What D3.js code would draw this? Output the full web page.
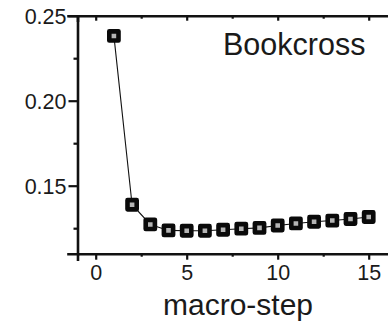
<!DOCTYPE html>
<html>
<head>
<meta charset="utf-8">
<script src="https://cdn.jsdelivr.net/npm/d3@7/dist/d3.min.js"></script>
<style>
  html, body { margin: 0; padding: 0; background: #fff; }
  svg { display: block; font-family: "Liberation Sans", Arial, sans-serif; }
  .axis path, .axis line { stroke: #111; }
  .axis text { fill: #1a1a1a; }
</style>
</head>
<body>
<svg id="chart" width="388" height="326"></svg>
<script>
// macro-step index and the value measured after each step
const steps = [1, 2, 3, 4, 5, 6, 7, 8, 9, 10, 11, 12, 13, 14, 15];
const values = [0.2381, 0.1388, 0.1272, 0.1237, 0.1235, 0.1235, 0.1241, 0.1247,
                0.1252, 0.1266, 0.1278, 0.1288, 0.1295, 0.1304, 0.1316];
const xMajorTicks = [0, 5, 10, 15];
const xMinorTicks = [2.5, 7.5, 12.5];
const yMajorTicks = [0.15, 0.20, 0.25];
const yMinorTicks = [0.125, 0.175, 0.225];
const datasetName = "Bookcross";
const xTitle = "macro-step";

const svg = d3.select("#chart");
const plotLeft = 77.5, plotTop = 15.7, plotBottom = 253.7;

const x = d3.scaleLinear().domain([-1, 16.5]).range([plotLeft, plotLeft + 17.5 * 18.2]);
const y = d3.scaleLinear().domain([0.11, 0.25]).range([plotBottom, plotTop]);

const fmt = d3.format(".2f");

// bottom axis: outward ticks with labels
const gx = svg.append("g").attr("class", "axis").attr("transform", `translate(0,${plotBottom})`);
gx.call(d3.axisBottom(x).tickValues(xMajorTicks).tickSize(6).tickPadding(5).tickFormat(d3.format("d")));
gx.append("g").call(d3.axisBottom(x).tickValues(xMinorTicks).tickSize(3).tickFormat(""))
  .select(".domain").remove();

// top axis: inward ticks, no labels
const gt = svg.append("g").attr("class", "axis").attr("transform", `translate(0,${plotTop})`);
gt.call(d3.axisBottom(x).tickValues(xMajorTicks).tickSize(5).tickFormat(""));
gt.append("g").call(d3.axisBottom(x).tickValues(xMinorTicks).tickSize(3).tickFormat(""))
  .select(".domain").remove();

// left axis
const gy = svg.append("g").attr("class", "axis").attr("transform", `translate(${plotLeft},0)`);
gy.call(d3.axisLeft(y).tickValues(yMajorTicks).tickSize(9).tickPadding(2).tickFormat(fmt));
gy.append("g").call(d3.axisLeft(y).tickValues(yMinorTicks).tickSize(4).tickFormat(""))
  .select(".domain").remove();

svg.selectAll(".axis .domain").attr("stroke-width", 2.6).attr("stroke-linecap", "square");
svg.selectAll(".axis .tick line").attr("stroke-width", 2.2);
svg.selectAll(".axis .tick text").attr("font-size", 21.5);
gy.selectAll(".tick text").attr("dy", "0.34em");

// connecting line
svg.append("path")
  .datum(steps.map((s, i) => [s, values[i]]))
  .attr("fill", "none")
  .attr("stroke", "#111")
  .attr("stroke-width", 1.1)
  .attr("d", d3.line().x(d => x(d[0])).y(d => y(d[1])));

// square markers
svg.append("g").selectAll("rect")
  .data(steps.map((s, i) => [s, values[i]]))
  .join("rect")
  .attr("x", d => x(d[0]) - 4.6)
  .attr("y", d => y(d[1]) - 4.6)
  .attr("width", 9.2)
  .attr("height", 9.2)
  .attr("fill", "#b4b4b4")
  .attr("stroke", "#0a0a0a")
  .attr("stroke-width", 4.6)
  .attr("stroke-linejoin", "round");

// dataset name inside the plot
svg.append("text")
  .attr("x", 223)
  .attr("y", 55)
  .attr("font-size", 30.5)
  .attr("fill", "#1a1a1a")
  .text(datasetName);

// x axis title
svg.append("text")
  .attr("x", 238)
  .attr("y", 315)
  .attr("text-anchor", "middle")
  .attr("font-size", 30)
  .attr("fill", "#1a1a1a")
  .text(xTitle);
</script>
</body>
</html>
